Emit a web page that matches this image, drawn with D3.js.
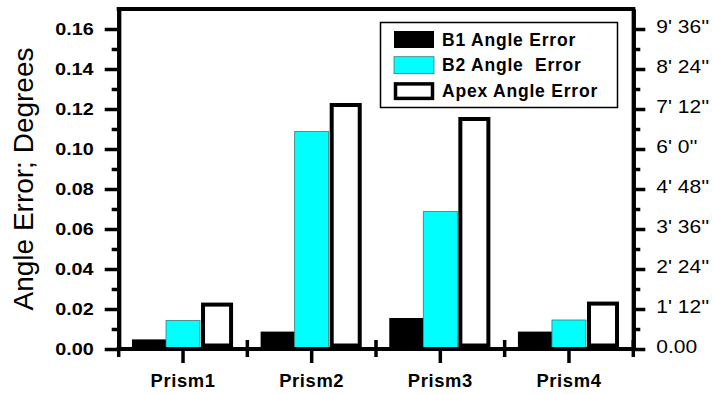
<!DOCTYPE html>
<html>
<head>
<meta charset="utf-8">
<script src="https://cdn.jsdelivr.net/npm/d3@7"></script>
<style>
	body { margin: 0; background: #fff; }
	svg { display: block; font-family: "Liberation Sans", Arial, sans-serif; }
	.sx { transform-box: fill-box; }
</style>
</head>
<body>
<svg id="chart" width="712" height="394"></svg>
<script>
const categories = ["Prism1", "Prism2", "Prism3", "Prism4"];
const seriesNames = ["B1 Angle Error", "B2 Angle  Error", "Apex Angle Error"];
const b1Values = [0.0048, 0.0087, 0.0155, 0.0087];
const b2Values = [0.0142, 0.1087, 0.0687, 0.0145];
const apexValues = [0.0232, 0.123, 0.116, 0.0237];
const majorTicks = [0, 0.02, 0.04, 0.06, 0.08, 0.10, 0.12, 0.14, 0.16];
const minorTicks = [0.01, 0.03, 0.05, 0.07, 0.09, 0.11, 0.13, 0.15];
const rightTickLabels = ["0.00", "1' 12''", "2' 24''", "3' 36''", "4' 48''", "6' 0''", "7' 12''", "8' 24''", "9' 36''"];

const svg = d3.select("#chart");

const x = d3.scaleBand()
	.domain(categories)
	.range([118.7, 633.3])
	.padding(0);

const xSub = d3.scaleBand()
	.domain(seriesNames)
	.range([0, x.bandwidth()])
	.paddingInner(0)
	.paddingOuter(0.39);

const y = d3.scaleLinear()
	.domain([0, 0.17])
	.range([349, 9]);

const seriesValues = [b1Values, b2Values, apexValues];
const rows = [];
categories.forEach((c, i) => {
	seriesNames.forEach((s, j) => {
		rows.push({ cat: c, series: s, idx: j, value: seriesValues[j][i] });
	});
});

// bars
const bars = svg.append("g");
const bw = xSub.bandwidth();
const apexStroke = 4;

bars.selectAll("rect.bar")
	.data(rows.filter(d => d.idx < 2))
	.enter()
	.append("rect")
	.attr("class", "bar")
	.attr("x", d => x(d.cat) + xSub(d.series))
	.attr("y", d => y(d.value))
	.attr("width", bw)
	.attr("height", d => y(0) - y(d.value))
	.attr("fill", d => d.idx === 0 ? "#000" : "#00ffff")
	.attr("stroke", d => d.idx === 0 ? "none" : "#3a7a7a")
	.attr("stroke-width", 0.8);

bars.selectAll("rect.apex")
	.data(rows.filter(d => d.idx === 2))
	.enter()
	.append("rect")
	.attr("class", "apex")
	.attr("x", d => x(d.cat) + xSub(d.series) + apexStroke / 2 + 1)
	.attr("y", d => y(d.value) + apexStroke / 2)
	.attr("width", bw - apexStroke - 2)
	.attr("height", d => y(0) - y(d.value) - apexStroke - 1.5)
	.attr("fill", "#fff")
	.attr("stroke", "#000")
	.attr("stroke-width", apexStroke);

// frame and axes
const axisStroke = 4;

function styleAxis(g) {
	g.select(".domain").attr("stroke", "#000").attr("stroke-width", axisStroke);
	g.selectAll(".tick line").attr("stroke", "#000").attr("stroke-width", 3.5);
}

svg.append("line")
	.attr("x1", x.range()[0] - 2)
	.attr("x2", x.range()[1] + 2)
	.attr("y1", y.range()[1])
	.attr("y2", y.range()[1])
	.attr("stroke", "#000")
	.attr("stroke-width", axisStroke);

// left axis
svg.append("g")
	.attr("transform", `translate(${x.range()[0]},0)`)
	.call(d3.axisLeft(y).tickValues(minorTicks).tickSize(7).tickSizeOuter(0).tickFormat(""))
	.call(styleAxis);

const leftAxis = svg.append("g")
	.attr("transform", `translate(${x.range()[0]},0)`)
	.call(d3.axisLeft(y).tickValues(majorTicks).tickSize(14).tickSizeOuter(0).tickPadding(11)
		.tickFormat(d3.format(".2f")))
	.call(styleAxis);

leftAxis.selectAll("text")
	.attr("class", "sx")
	.style("font-size", "16.5px")
	.style("font-weight", "bold")
	.style("fill", "#000")
	.style("transform-origin", "right center")
	.style("transform", "scaleX(1.2)");

// right axis
svg.append("g")
	.attr("transform", `translate(${x.range()[1]},0)`)
	.call(d3.axisRight(y).tickValues(minorTicks).tickSize(7).tickSizeOuter(0).tickFormat(""))
	.call(styleAxis);

const rightAxis = svg.append("g")
	.attr("transform", `translate(${x.range()[1]},0)`)
	.call(d3.axisRight(y).tickValues(majorTicks).tickSize(12).tickSizeOuter(0).tickPadding(11)
		.tickFormat((d, i) => rightTickLabels[i]))
	.call(styleAxis);

rightAxis.selectAll("text")
	.attr("class", "sx")
	.attr("dy", "0.2em")
	.style("font-size", "17.5px")
	.style("fill", "#000")
	.style("transform-origin", "left center")
	.style("transform", "scaleX(1.2)");

// bottom axis
const bottomAxis = svg.append("g")
	.attr("transform", `translate(0,${y(0)})`)
	.call(d3.axisBottom(x).tickSize(14).tickSizeOuter(0).tickPadding(12))
	.call(styleAxis);

bottomAxis.select(".domain")
	.attr("d", `M${x.range()[0] - 2},0H${x.range()[1] + 2}`);

bottomAxis.selectAll("text")
	.attr("class", "sx")
	.style("font-size", "17.5px")
	.style("font-weight", "bold")
	.style("fill", "#000")
	.style("letter-spacing", "0.6px")
	.style("transform-origin", "center")
	.style("transform", "scaleX(1.05)");

// boundary ticks crossing the x axis
const boundaries = categories.map(c => x(c)).concat([x.range()[1]]);
svg.append("g")
	.selectAll("line")
	.data(boundaries)
	.enter()
	.append("line")
	.attr("x1", d => d)
	.attr("x2", d => d)
	.attr("y1", y(0) - 9)
	.attr("y2", y(0) + 8)
	.attr("stroke", "#000")
	.attr("stroke-width", 3.5);

// y title
svg.append("text")
	.attr("transform", `translate(33,${(y(0) + y.range()[1]) / 2 + 0}) rotate(-90)`)
	.attr("text-anchor", "middle")
	.style("font-size", "28px")
	.style("fill", "#000")
	.text("Angle Error; Degrees");

// legend
const legend = svg.append("g").attr("transform", "translate(380,22)");

legend.append("rect")
	.attr("x", 0.5)
	.attr("y", 0.5)
	.attr("width", 237)
	.attr("height", 85)
	.attr("fill", "#fff")
	.attr("stroke", "#000")
	.attr("stroke-width", 1.5);

const legendItems = legend.selectAll("g.item")
	.data(seriesNames)
	.enter()
	.append("g")
	.attr("class", "item")
	.attr("transform", (d, i) => `translate(0,${i * 25.7})`);

legendItems.append("rect")
	.attr("x", (d, i) => i === 2 ? 15.5 : 14)
	.attr("y", (d, i) => i === 2 ? 10.5 : 9)
	.attr("width", (d, i) => i === 2 ? 37 : 40)
	.attr("height", (d, i) => i === 2 ? 14.5 : 17)
	.attr("fill", (d, i) => i === 0 ? "#000" : i === 1 ? "#00ffff" : "#fff")
	.attr("stroke", (d, i) => i === 0 ? "none" : i === 1 ? "#3a7a7a" : "#000")
	.attr("stroke-width", (d, i) => i === 2 ? 3.5 : 0.8);

legendItems.append("text")
	.attr("x", 62)
	.attr("y", 23.7)
	.style("font-size", "17.5px")
	.style("font-weight", "bold")
	.style("letter-spacing", "0.8px")
	.style("white-space", "pre")
	.style("fill", "#000")
	.text(d => d);
</script>
</body>
</html>
